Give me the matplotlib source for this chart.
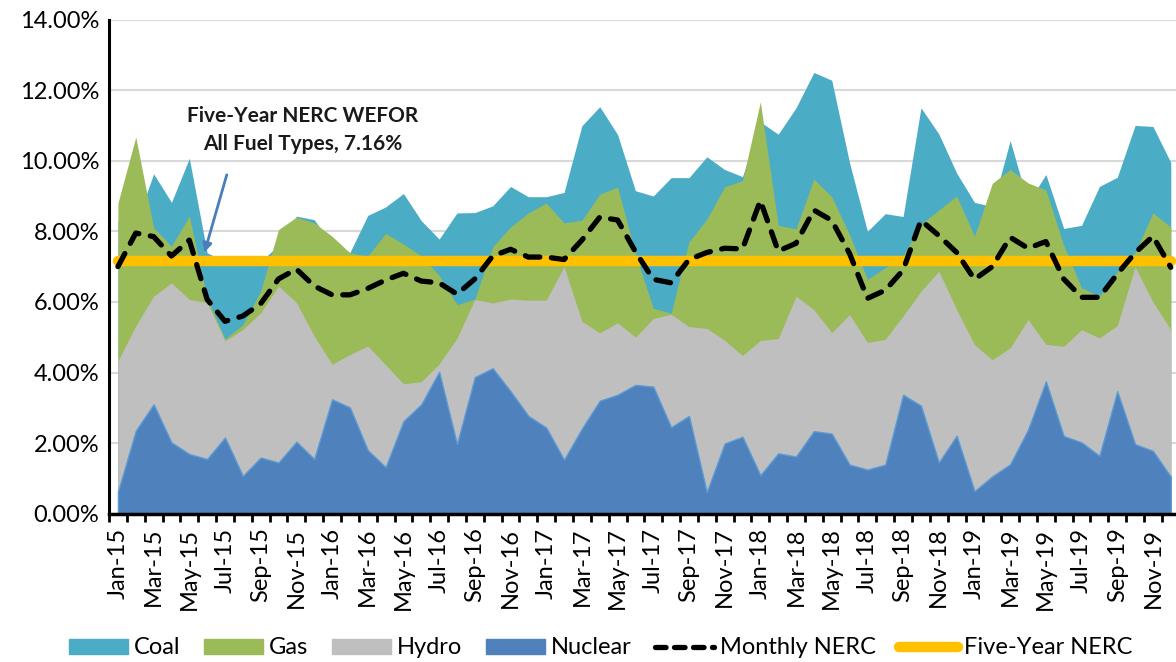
import matplotlib
matplotlib.use("Agg")
import matplotlib.pyplot as plt
from matplotlib.patches import Patch
from matplotlib.lines import Line2D
from matplotlib.ticker import FuncFormatter, FixedLocator

plt.rcParams['font.family'] = ['Lato', 'DejaVu Sans']

months = []
for yr in range(15, 20):
    for m in ["Jan", "Feb", "Mar", "Apr", "May", "Jun", "Jul", "Aug", "Sep", "Oct", "Nov", "Dec"]:
        months.append(f"{m}-{yr}")

coal = [8.3, 8.2, 9.63, 8.82, 10.07, 7.39, 7.15, 7.1, 7.15, 7.6, 8.43, 8.33,
        7.6, 7.4, 8.45, 8.69, 9.07, 8.3, 7.78, 8.52, 8.53, 8.72, 9.27, 8.98,
        8.98, 9.1, 10.99, 11.53, 10.74, 9.15, 9.0, 9.52, 9.52, 10.11, 9.75, 9.55,
        11.1, 10.75, 11.5, 12.5, 12.28, 9.94, 8.0, 8.5, 8.42, 11.5, 10.76, 9.65,
        8.82, 8.7, 10.57, 8.8, 9.61, 8.08, 8.17, 9.27, 9.53, 11.0, 10.97, 9.95]
gas = [8.8, 10.67, 8.1, 7.58, 8.43, 6.1, 4.95, 5.35, 6.3, 8.05, 8.4, 8.24,
       7.86, 7.39, 7.3, 7.94, 7.64, 7.3, 6.75, 5.92, 6.08, 7.56, 8.12, 8.52,
       8.8, 8.24, 8.31, 9.05, 9.25, 7.35, 5.82, 5.68, 7.7, 8.34, 9.26, 9.43,
       11.67, 8.17, 8.07, 9.48, 8.98, 7.9, 6.64, 6.97, 7.3, 8.2, 8.6, 9.0,
       7.86, 9.36, 9.75, 9.37, 9.17, 7.6, 6.4, 6.16, 6.85, 7.4, 8.52, 8.12]
hydro = [4.33, 5.32, 6.16, 6.54, 6.07, 5.98, 4.9, 5.22, 5.69, 6.45, 5.98, 5.03,
         4.23, 4.51, 4.75, 4.22, 3.68, 3.74, 4.24, 4.97, 6.07, 5.97, 6.08, 6.05,
         6.05, 7.0, 5.45, 5.12, 5.41, 5.0, 5.53, 5.65, 5.3, 5.25, 4.91, 4.48,
         4.91, 4.96, 6.16, 5.78, 5.13, 5.64, 4.85, 4.94, 5.6, 6.3, 6.87, 5.78,
         4.79, 4.36, 4.7, 5.5, 4.8, 4.74, 5.21, 4.98, 5.33, 6.99, 6.0, 5.21]
nuclear = [0.62, 2.35, 3.10, 2.02, 1.69, 1.55, 2.16, 1.07, 1.59, 1.45, 2.04, 1.55,
           3.24, 3.01, 1.8, 1.32, 2.62, 3.1, 4.02, 1.97, 3.87, 4.12, 3.47, 2.77,
           2.44, 1.53, 2.41, 3.2, 3.37, 3.65, 3.6, 2.45, 2.77, 0.61, 1.99, 2.18,
           1.09, 1.71, 1.62, 2.34, 2.27, 1.39, 1.25, 1.39, 3.37, 3.06, 1.45, 2.21,
           0.64, 1.06, 1.4, 2.38, 3.75, 2.2, 2.02, 1.64, 3.47, 1.97, 1.78, 1.05]
monthly = [7.0, 7.95, 7.85, 7.3, 7.75, 6.07, 5.45, 5.6, 5.95, 6.65, 6.93, 6.45,
           6.2, 6.2, 6.38, 6.62, 6.81, 6.59, 6.54, 6.22, 6.65, 7.3, 7.49, 7.27,
           7.27, 7.2, 7.75, 8.4, 8.32, 7.42, 6.64, 6.54, 7.2, 7.4, 7.52, 7.5,
           8.87, 7.44, 7.66, 8.6, 8.31, 7.37, 6.1, 6.33, 6.9, 8.31, 7.88, 7.4,
           6.64, 7.0, 7.83, 7.52, 7.71, 6.65, 6.13, 6.13, 6.79, 7.39, 7.86, 6.98]
five_year = 7.16

W, H = 1176, 662
fig = plt.figure(figsize=(W / 100, H / 100), dpi=100)
left, right, top, bottom = 109, 1179.7, 19.5, 513.7
ax = fig.add_axes([left / W, 1 - bottom / H, (right - left) / W, (bottom - top) / H])

x = list(range(len(months)))
c_coal, c_gas, c_hydro, c_nuc = "#4BACC6", "#9BBB59", "#BFBFBF", "#4F81BD"
ax.fill_between(x, 0, coal, color=c_coal, lw=0, zorder=2)
ax.fill_between(x, 0, gas, color=c_gas, lw=0, zorder=3)
ax.fill_between(x, 0, hydro, color=c_hydro, lw=0, zorder=4)
ax.fill_between(x, 0, nuclear, facecolor=c_nuc, edgecolor="#5B9BD5", lw=1.0, zorder=5)
ax.plot(x, [five_year] * len(x), color="#FFC000", lw=7.5, solid_capstyle="round", zorder=6)
ax.plot(x, monthly, color="black", lw=3.8, dashes=(2.8, 2.2), dash_capstyle="round", zorder=7)

ax.set_xlim(-0.5, len(x) - 0.5)
ax.set_ylim(0, 14)
ax.set_yticks([0, 2, 4, 6, 8, 10, 12, 14])
ax.yaxis.set_major_formatter(FuncFormatter(lambda v, p: f"{v:.2f}%"))
ax.grid(axis="y", color="#D9D9D9", lw=1.5, zorder=0)
ax.set_axisbelow(True)
ax.tick_params(axis="y", length=0, pad=7, labelsize=17)

ax.set_xticks(x[::2])
ax.set_xticklabels(months[::2], rotation=90, fontsize=17)
ax.xaxis.set_minor_locator(FixedLocator([i - 0.5 for i in range(len(x) + 1)]))
ax.tick_params(axis="x", which="major", length=0, pad=10)
ax.tick_params(axis="x", which="minor", length=6, width=2, color="black", direction="out")

for s in ["top", "right"]:
    ax.spines[s].set_visible(False)
ax.spines["left"].set_linewidth(2.2)
ax.spines["bottom"].set_linewidth(2.5)
ax.spines["left"].set_zorder(10)
ax.spines["bottom"].set_zorder(10)

ax.text(10.33, 10.87, "Five-Year NERC WEFOR\nAll Fuel Types, 7.16%", ha="center", va="center",
        fontsize=15, fontweight="bold", color="#1a1a1a", linespacing=1.45, zorder=8)
ax.annotate("", xy=(4.85, 7.4), xytext=(6.1, 9.6),
            arrowprops=dict(arrowstyle="-|>", color="#4A7EBB", lw=2, mutation_scale=13,
                            shrinkA=0, shrinkB=0), zorder=8)

handles = [Patch(color=c_coal), Patch(color=c_gas), Patch(color=c_hydro), Patch(color=c_nuc),
           Line2D([], [], color="black", lw=3.8, dashes=(2.0, 1.6), dash_capstyle="round"),
           Line2D([], [], color="#FFC000", lw=7.5, solid_capstyle="round")]
labels = ["Coal", "Gas", "Hydro", "Nuclear", "Monthly NERC", "Five-Year NERC"]
fig.legend(handles, labels, loc="center", bbox_to_anchor=(0.511, 1 - 648 / H), ncol=6,
           frameon=False, fontsize=17, handlelength=2.5, handleheight=0.6,
           handletextpad=0.25, columnspacing=1.0)

fig.savefig("out.png", dpi=100)
